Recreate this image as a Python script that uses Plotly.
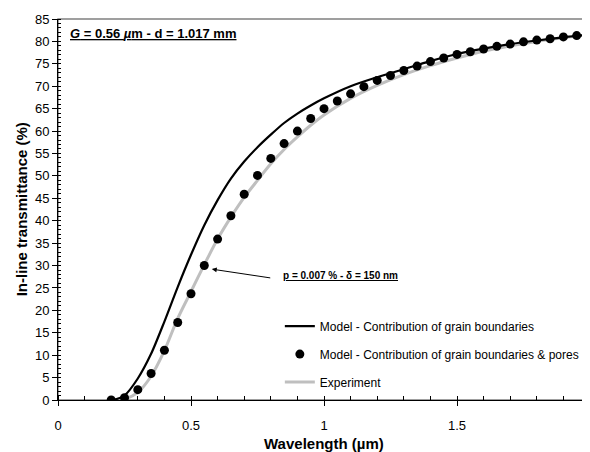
import plotly.graph_objects as go

# ---------------- data ----------------
wl_pores = [0.2, 0.25, 0.3, 0.35, 0.4, 0.45, 0.5, 0.55, 0.6, 0.65, 0.7, 0.75, 0.8, 0.85,
            0.9, 0.95, 1.0, 1.05, 1.1, 1.15, 1.2, 1.25, 1.3, 1.35, 1.4, 1.45, 1.5, 1.55,
            1.6, 1.65, 1.7, 1.75, 1.8, 1.85, 1.9, 1.95, 2.0]
t_pores = [0.0, 0.5, 2.3, 5.9, 11.1, 17.3, 23.7, 30.0, 35.9, 41.1, 45.9, 50.1, 53.9, 57.2,
           60.0, 62.8, 65.0, 66.7, 68.3, 69.9, 71.3, 72.4, 73.5, 74.5, 75.5, 76.3, 77.1, 77.7,
           78.3, 78.9, 79.4, 79.9, 80.3, 80.6, 81.0, 81.3, 81.6]

wl_gb = [0.2, 0.22, 0.25, 0.3, 0.35, 0.4, 0.45, 0.5, 0.55, 0.6, 0.65, 0.7, 0.75, 0.8, 0.85,
         0.9, 0.95, 1.0, 1.1, 1.2, 1.3, 1.4, 1.5, 1.6, 1.7, 1.8, 1.9, 2.0]
t_gb = [0.0, 0.2, 1.0, 4.8, 10.3, 17.5, 25.2, 32.4, 39.0, 44.6, 49.4, 53.2, 56.4, 59.2, 61.8,
        63.9, 65.7, 67.3, 70.0, 72.0, 73.8, 75.6, 77.2, 78.4, 79.4, 80.2, 80.9, 81.5]

wl_exp = [0.2, 0.25, 0.3, 0.35, 0.4, 0.45, 0.5, 0.55, 0.6, 0.65, 0.7, 0.75, 0.8, 0.85,
          0.9, 0.95, 1.0, 1.1, 1.2, 1.3, 1.4, 1.5, 1.6, 1.7, 1.8, 1.9, 2.0]
t_exp = [0.0, 0.2, 1.7, 5.3, 11.0, 18.2, 24.2, 30.2, 35.9, 40.8, 45.2, 49.0, 52.7, 55.9,
         58.7, 61.3, 63.6, 67.3, 70.2, 72.6, 74.6, 76.3, 77.8, 79.0, 80.0, 80.8, 81.5]

names = ["Model - Contribution of grain boundaries",
         "Model - Contribution of grain boundaries & pores",
         "Experiment"]

FONT = "Liberation Sans, Arial, sans-serif"

fig = go.Figure()
fig.add_trace(go.Scatter(x=wl_exp, y=t_exp, mode="lines", name=names[2],
                         line=dict(color="#bfbfbf", width=3, shape="spline", smoothing=0.8),
                         legendrank=3, legendgroup="c"))
fig.add_trace(go.Scatter(x=wl_gb, y=t_gb, mode="lines", name=names[0],
                         line=dict(color="black", width=2.2, shape="spline", smoothing=0.8),
                         legendrank=1, legendgroup="a"))
fig.add_trace(go.Scatter(x=wl_pores, y=t_pores, mode="markers", name=names[1],
                         marker=dict(color="black", size=9, symbol="circle"),
                         legendrank=2, legendgroup="b"))

# the page body has an 8px margin, so the figure is offset by 8px in the window
fig.update_layout(
    width=590, height=452,
    margin=dict(l=50, r=8, t=11, b=60, autoexpand=False),
    paper_bgcolor="white", plot_bgcolor="white",
    font=dict(family=FONT, color="black"),
    legend=dict(x=0.417, y=0.232, xanchor="left", yanchor="top",
                bgcolor="rgba(0,0,0,0)", font=dict(size=12, family=FONT),
                tracegroupgap=9, itemwidth=30),
    xaxis=dict(range=[0, 2], dtick=0.5, showgrid=False, zeroline=False, automargin=False,
               showline=True, linecolor="black", linewidth=1,
               ticks="outside", ticklen=5, tickcolor="black",
               minor=dict(dtick=0.1, ticks="inside", ticklen=4, tickcolor="black"),
               tickfont=dict(size=13), ticklabelstandoff=8),
    yaxis=dict(range=[0, 85], dtick=5, showgrid=False, zeroline=False, automargin=False,
               showline=True, linecolor="black", linewidth=1,
               ticks="outside", ticklen=5, tickcolor="black",
               minor=dict(dtick=1, ticks="inside", ticklen=3, tickcolor="black"),
               tickfont=dict(size=13)),
)

# plot-area frame (grey, Excel style)
fig.add_shape(type="rect", xref="paper", yref="paper", x0=0, x1=1, y0=0, y1=1,
              line=dict(color="#808080", width=1.5), layer="below")

# axis titles
fig.add_annotation(xref="paper", yref="paper", x=0.5, y=-0.113, xanchor="center", yanchor="middle",
                   text="<b>Wavelength (µm)</b>", showarrow=False, font=dict(size=15, family=FONT))
fig.add_annotation(xref="paper", yref="paper", x=-0.068, y=0.5, xanchor="center", yanchor="middle",
                   text="<b>In-line transmittance (%)</b>", textangle=-90,
                   showarrow=False, font=dict(size=15, family=FONT))

fig.add_annotation(xref="paper", yref="paper", x=0.018, y=0.962, xanchor="left", yanchor="middle",
                   text="<u><b><i>G</i> = 0.56 <i>µ</i>m - d = 1.017 mm</b></u>",
                   showarrow=False, font=dict(size=13, family=FONT))
fig.add_annotation(xref="paper", yref="paper", x=0.42, y=0.327, xanchor="left", yanchor="middle",
                   text="<u><b>p = 0.007 % - δ = 150 nm</b></u>",
                   showarrow=False, font=dict(size=10, family=FONT))
fig.add_annotation(x=0.578, y=29.2, xref="x", yref="y", text="", showarrow=True,
                   ax=60, ay=9, arrowhead=2, arrowsize=1, arrowwidth=1, arrowcolor="black",
                   standoff=0)

fig.write_html("out.html")
